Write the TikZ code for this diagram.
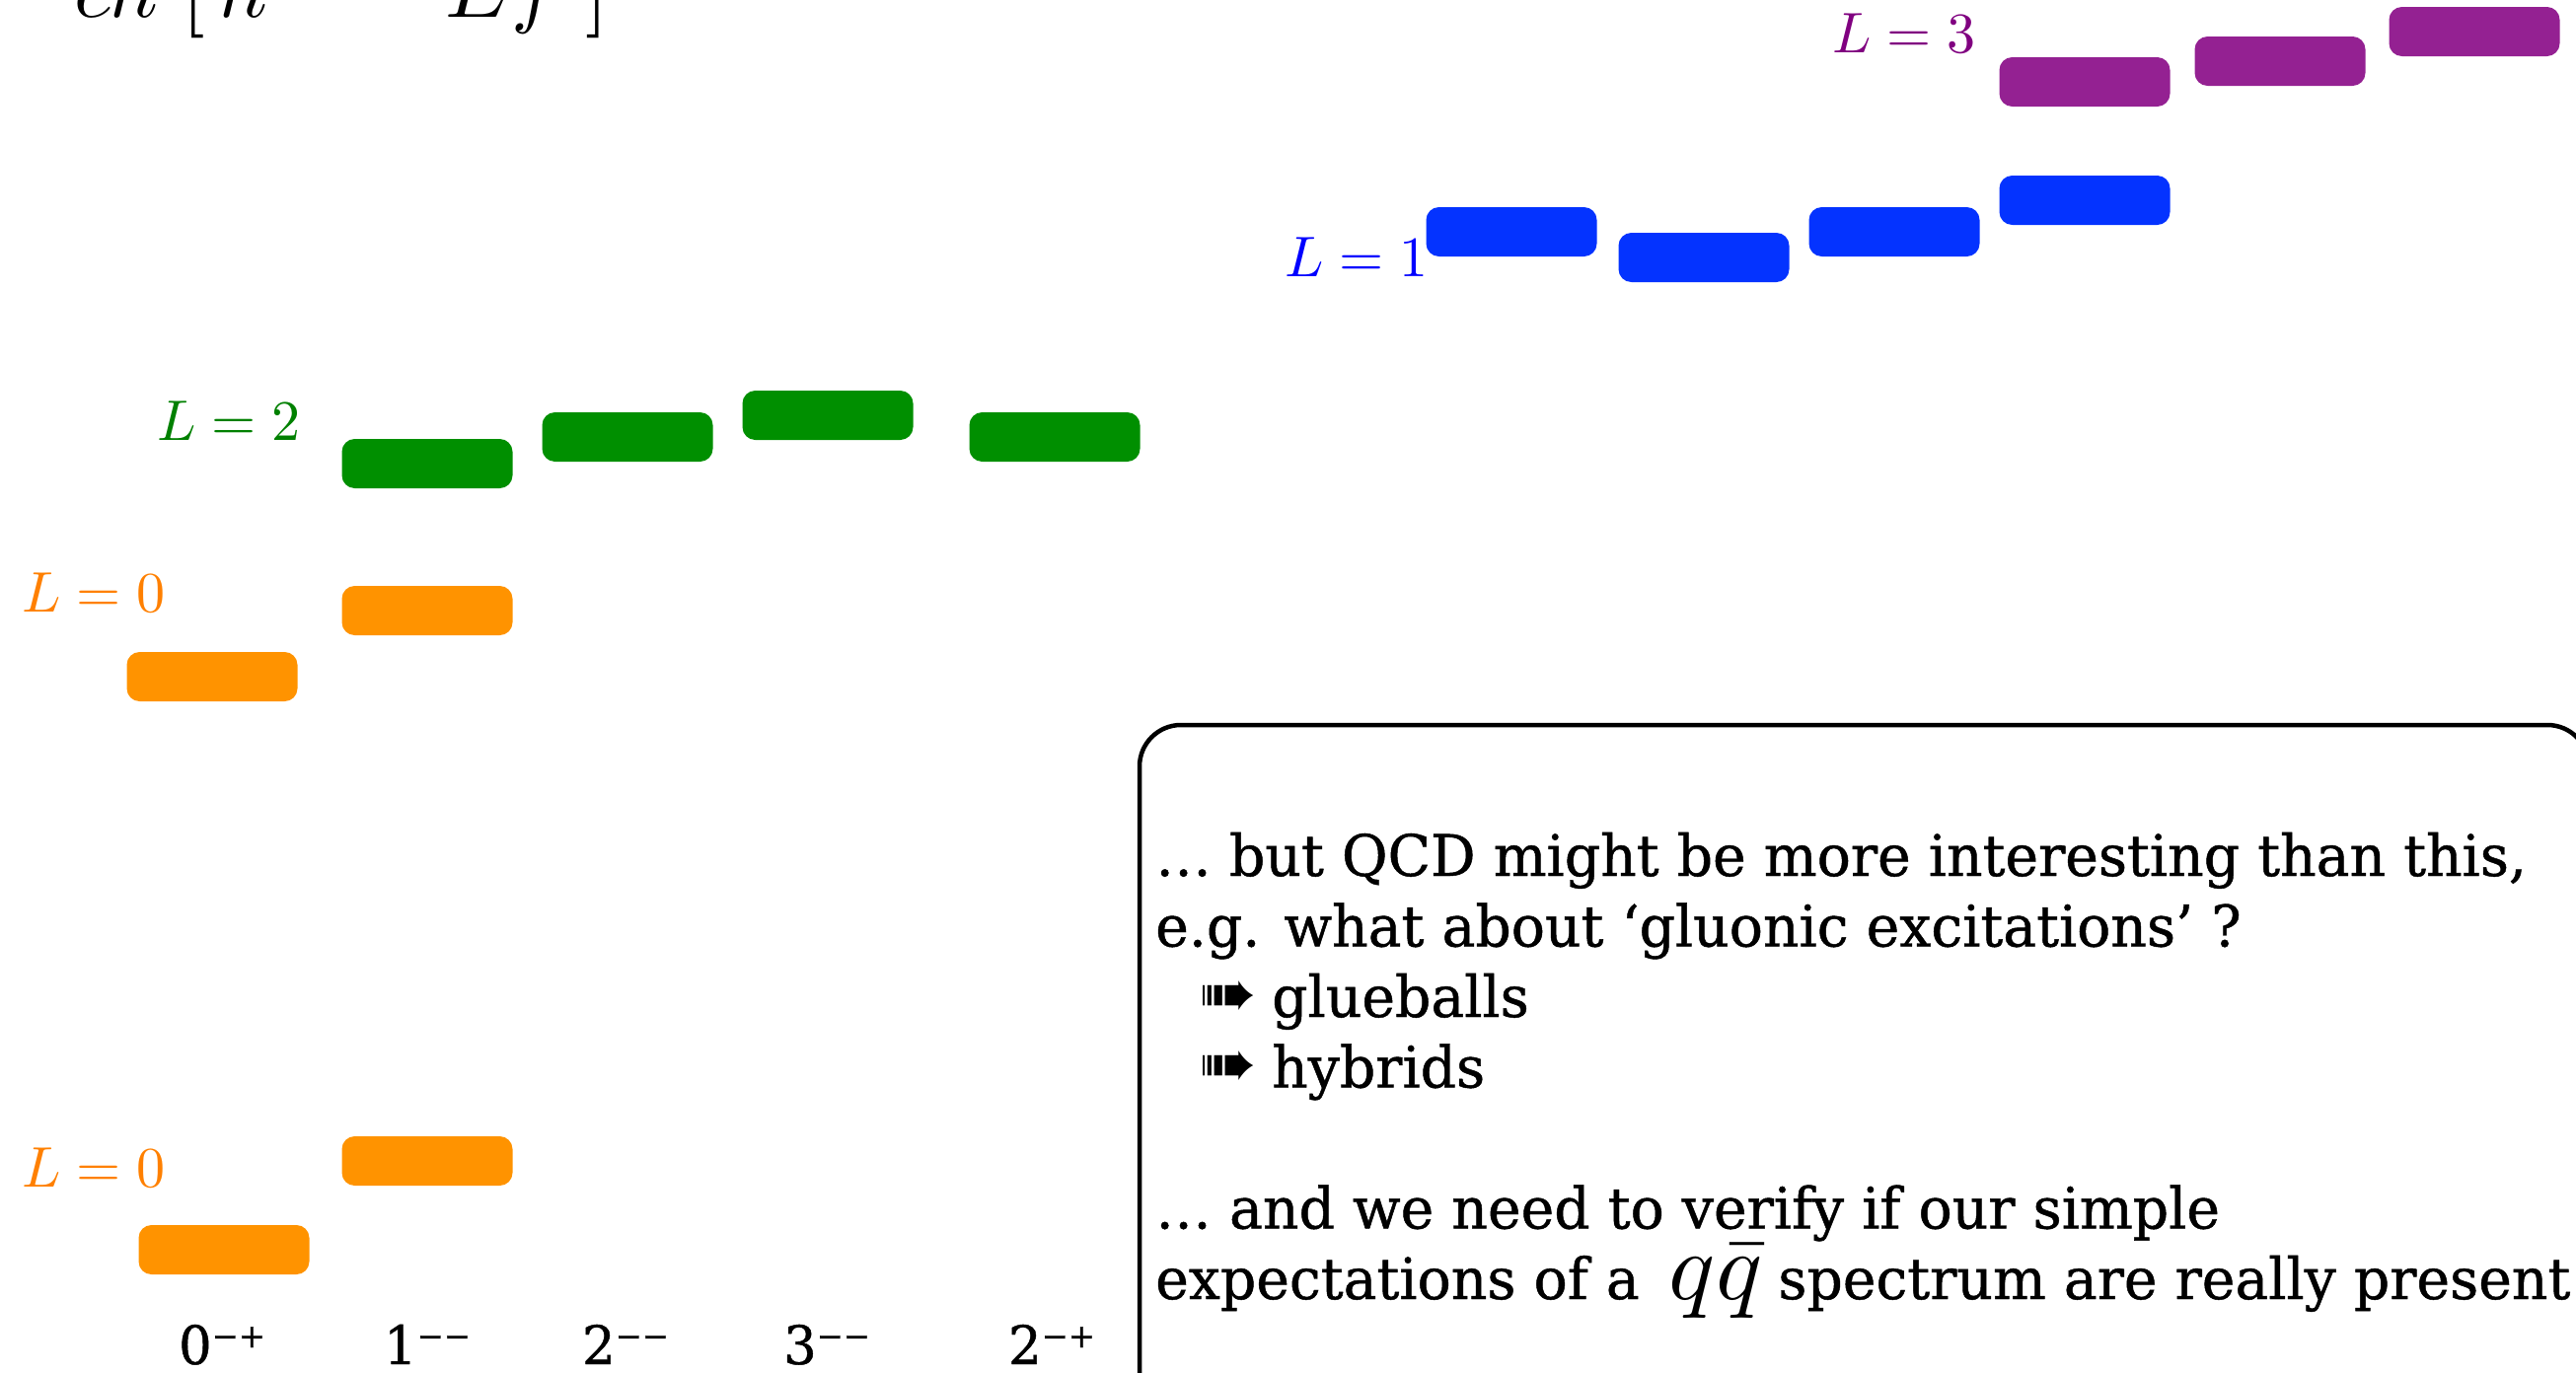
\documentclass[tikz,border=0pt]{standalone}
\usepackage[no-math]{fontspec}
\DeclareFontShape{OT1}{cmr}{m}{n}{<->cmr10}{}
\DeclareFontShape{OML}{cmm}{m}{it}{<->cmmi10}{}
\DeclareFontShape{OMS}{cmsy}{m}{n}{<->cmsy10}{}
\DeclareFontShape{OMX}{cmex}{m}{n}{<->cmex10}{}
\setmainfont[FakeStretch=0.98, FakeBold=0.8]{DejaVu Serif}
\newfontfamily\symfont{DejaVu Sans}
\definecolor{barorange}{RGB}{255,147,0}
\definecolor{bargreen}{RGB}{0,143,0}
\definecolor{barblue}{RGB}{4,51,255}
\definecolor{barplum}{RGB}{148,33,146}
\definecolor{laborange}{RGB}{255,128,0}
\definecolor{labgreen}{RGB}{0,128,0}
\definecolor{labblue}{RGB}{0,0,255}
\definecolor{labplum}{RGB}{128,0,128}
\begin{document}
\begin{tikzpicture}[x=1pt,y=-1pt,
  lvlbar/.style={rounded corners=13pt, minimum width=173pt, minimum height=50pt, inner sep=0pt, draw=none},
  obar/.style={lvlbar, fill=barorange},
  gbar/.style={lvlbar, fill=bargreen},
  bbar/.style={lvlbar, fill=barblue},
  pbar/.style={lvlbar, fill=barplum},
  llab/.style={anchor=base west, inner sep=0pt, font=\fontsize{58}{58}\selectfont},
  boxtxt/.style={anchor=base west, inner sep=0pt, font=\fontsize{58}{72}\selectfont},
  arrowsym/.style={anchor=base west, inner sep=0pt, font=\symfont\fontsize{70}{70}\selectfont},
  jpc/.style={anchor=base, inner sep=0pt, font=\fontsize{54}{54}\selectfont}
]
\useasboundingbox (0,0) rectangle (2611,1392);

% cut-off formula at the top
\node[anchor=base west, inner sep=0pt, font=\fontsize{85}{85}\selectfont] (eq) at (75,17)
  {$ch\;\Bigl[\,h\hspace{180pt}Ef\;\Bigr]$};

% L = 0 (lower)
\node[obar] (o1) at (227,1267) {};
\node[obar] (o2) at (433,1177) {};
\node[llab, text=laborange] (lo1) at (22,1203) {$L=0$};

% L = 0 (upper)
\node[obar] (o3) at (215,686) {};
\node[obar] (o4) at (433,619) {};
\node[llab, text=laborange] (lo2) at (22,620) {$L=0$};

% L = 2
\node[gbar] (g1) at (433,470) {};
\node[gbar] (g2) at (636,443) {};
\node[gbar] (g3) at (839,421) {};
\node[gbar] (g4) at (1069,443) {};
\node[llab, text=labgreen] (lg) at (159,446) {$L=2$};

% L = 1
\node[bbar] (b1) at (1532,235) {};
\node[bbar] (b2) at (1727,261) {};
\node[bbar] (b3) at (1920,235) {};
\node[bbar] (b4) at (2113,203) {};
\node[llab, text=labblue] (lb) at (1302,280) {$L=1$};

% L = 3
\node[pbar] (p1) at (2113,83) {};
\node[pbar] (p2) at (2311,62) {};
\node[pbar] (p3) at (2508,32) {};
\node[llab, text=labplum] (lp) at (1857,53) {$L=3$};

% J^PC labels
\node[jpc] (j0) at (225,1383) {0\raisebox{17pt}{\fontsize{33}{33}\selectfont −+}};
\node[jpc] (j1) at (433,1383) {1\raisebox{17pt}{\fontsize{33}{33}\selectfont −−}};
\node[jpc] (j2) at (634,1383) {2\raisebox{17pt}{\fontsize{33}{33}\selectfont −−}};
\node[jpc] (j3) at (838,1383) {3\raisebox{17pt}{\fontsize{33}{33}\selectfont −−}};
\node[jpc] (j4) at (1066,1383) {2\raisebox{17pt}{\fontsize{33}{33}\selectfont −+}};

% text box
\node[draw, line width=4.5pt, rounded corners=42pt, minimum width=1469pt, minimum height=695pt, inner sep=0pt] (box) at (1889.5,1082.5) {};
\node[boxtxt] (t1) at (1171,888) {… but QCD might be more interesting than this,};
\node[boxtxt] (t2) at (1171,959.5) {e.g. what about ‘gluonic excitations’ ?};
\node[arrowsym] (a1) at (1215,1031) {➠};
\node[boxtxt] (t3) at (1289,1031) {glueballs};
\node[arrowsym] (a2) at (1215,1102.5) {➠};
\node[boxtxt] (t4) at (1289,1102.5) {hybrids};
\node[boxtxt] (t5) at (1171,1245.5) {… and we need to verify if our simple};
\node[boxtxt] (t6) at (1171,1317) {expectations of a\hspace{30pt}{\fontsize{98}{98}\selectfont$q\bar q$}\hspace{16pt}spectrum are really present};
\end{tikzpicture}
\end{document}
